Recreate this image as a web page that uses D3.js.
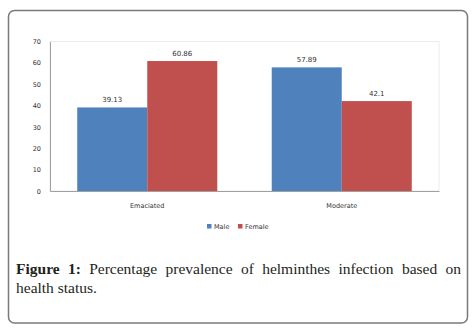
<!DOCTYPE html>
<html>
<head>
<meta charset="utf-8">
<script src="https://cdn.jsdelivr.net/npm/d3@7/dist/d3.min.js"></script>
<style>
  html, body { margin: 0; padding: 0; background: #fff; }
  #chart { position: relative; width: 474px; height: 330px; }
  svg { position: absolute; left: 0; top: 0; }
  .caption {
    position: absolute; left: 16px; width: 445px;
    font-family: "Liberation Serif", "DejaVu Serif", serif;
    font-size: 15.5px; color: #231f20; line-height: 18px;
    white-space: nowrap;
  }
  .caption.first { text-align: justify; text-align-last: justify; white-space: normal; }
  .caption b { font-weight: bold; }
</style>
</head>
<body>
<div id="chart"></div>
<script>
// ---- Data
const categories = ['Emaciated', 'Moderate'];
const seriesNames = ['Male', 'Female'];
const maleValues = [39.13, 57.89];
const femaleValues = [60.86, 42.1];
const valueLabels = [['39.13', '60.86'], ['57.89', '42.1']];
const yTicks = [0, 10, 20, 30, 40, 50, 60, 70];
const colors = { Male: '#4f81bd', Female: '#c0504d' };

const W = 474, H = 330;
const plot = { left: 50, right: 439, top: 41.5, bottom: 191 };

const root = d3.select('#chart');
const svg = root.append('svg').attr('width', W).attr('height', H);

// ---- Outer frame
svg.append('rect')
  .attr('x', 8.5).attr('y', 10.5).attr('width', 459).attr('height', 312.5)
  .attr('rx', 6).attr('ry', 6)
  .attr('fill', '#fff').attr('stroke', '#7a7a7a').attr('stroke-width', 1.5);

// ---- Plot area border
svg.append('rect')
  .attr('x', plot.left).attr('y', plot.top)
  .attr('width', plot.right - plot.left).attr('height', plot.bottom - plot.top)
  .attr('fill', 'none').attr('stroke', '#ececec').attr('stroke-width', 1);

// ---- Scales
const x0 = d3.scaleBand().domain(categories).range([plot.left, plot.right]);
const gap = x0.bandwidth() * 0.14;
const x1 = d3.scaleBand().domain(seriesNames).range([gap, x0.bandwidth() - gap]);
const y = d3.scaleLinear().domain([0, 70]).range([plot.bottom, plot.top]);

const rows = categories.map((c, i) => ({
  category: c,
  values: [
    { series: 'Male', value: maleValues[i], label: valueLabels[i][0] },
    { series: 'Female', value: femaleValues[i], label: valueLabels[i][1] }
  ]
}));

// ---- Bars
const groups = svg.append('g').selectAll('g').data(rows).join('g')
  .attr('transform', d => `translate(${x0(d.category)},0)`);

groups.selectAll('rect').data(d => d.values).join('rect')
  .attr('x', d => x1(d.series))
  .attr('y', d => y(d.value))
  .attr('width', x1.bandwidth())
  .attr('height', d => y(0) - y(d.value))
  .attr('fill', d => colors[d.series]);

groups.selectAll('text').data(d => d.values).join('text')
  .attr('x', d => x1(d.series) + x1.bandwidth() / 2)
  .attr('y', d => y(d.value) - 5)
  .attr('text-anchor', 'middle')
  .attr('font-family', 'DejaVu Sans, sans-serif')
  .attr('font-size', 7)
  .attr('fill', '#333')
  .text(d => d.label);

// ---- Axes
const yAxis = svg.append('g')
  .attr('transform', `translate(${plot.left},0)`)
  .call(d3.axisLeft(y).tickValues(yTicks).tickSize(0).tickPadding(9));
yAxis.select('.domain').attr('stroke', '#a0a0a0');
yAxis.selectAll('.tick text')
  .attr('font-family', 'DejaVu Sans, sans-serif').attr('font-size', 6.5).attr('fill', '#333');

const xAxis = svg.append('g')
  .attr('transform', `translate(0,${plot.bottom})`)
  .call(d3.axisBottom(x0).tickSize(0).tickPadding(12));
xAxis.select('.domain').attr('stroke', '#a0a0a0');
xAxis.selectAll('.tick text')
  .attr('font-family', 'DejaVu Sans, sans-serif').attr('font-size', 6.5).attr('fill', '#333');

// ---- Legend
const legend = svg.append('g').attr('transform', 'translate(207,228)');
const legendItems = legend.selectAll('g').data(seriesNames).join('g')
  .attr('transform', (d, i) => `translate(${i * 31},0)`);
legendItems.append('rect')
  .attr('x', 0).attr('y', -4).attr('width', 4.5).attr('height', 4.5)
  .attr('fill', d => colors[d]);
legendItems.append('text')
  .attr('x', 7).attr('y', 0.5)
  .attr('font-family', 'DejaVu Sans, sans-serif').attr('font-size', 6.5).attr('fill', '#333')
  .text(d => d);

// ---- Caption
root.append('div').attr('class', 'caption first').style('top', '260px')
  .html('<b>Figure 1:</b> Percentage prevalence of helminthes infection based on');
root.append('div').attr('class', 'caption').style('top', '278.5px')
  .text('health status.');
</script>
</body>
</html>
